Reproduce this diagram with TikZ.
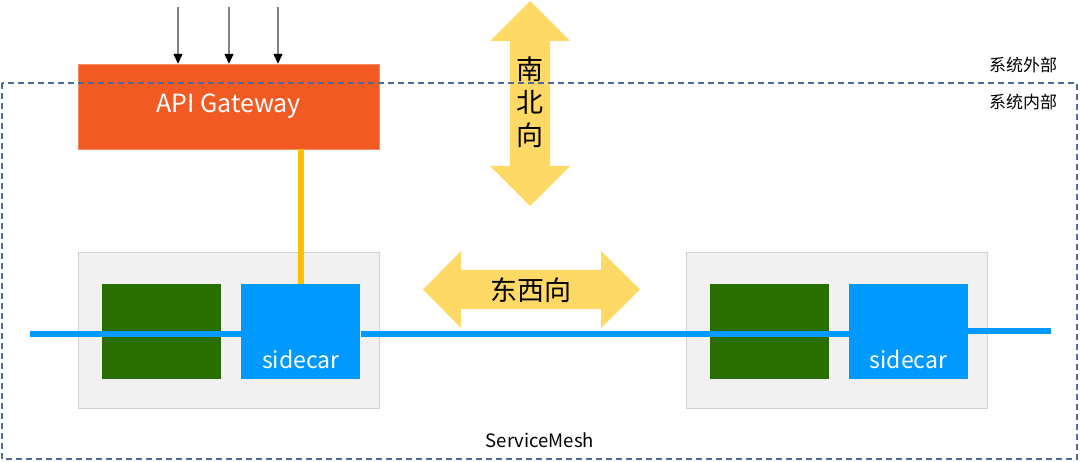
\documentclass[tikz,border=0pt]{standalone}
\usepackage{fontspec}
\setmainfont{Noto Sans CJK SC}
\usetikzlibrary{arrows.meta,positioning}
\definecolor{gwred}{HTML}{F15A22}\definecolor{podgray}{HTML}{F1F1F1}\definecolor{podline}{HTML}{D0D0D0}
\definecolor{appgreen}{HTML}{286E00}\definecolor{meshblue}{HTML}{0099FF}\definecolor{feedyel}{HTML}{FFC000}
\definecolor{dirfill}{HTML}{FFD966}\definecolor{framec}{HTML}{4E6A9C}
\tikzset{gw/.style={fill=gwred,draw=gwred!70!white,text=white,minimum width=301pt,minimum height=85pt,inner sep=0pt,font=\fontsize{25}{29}\selectfont},
 pod/.style={fill=podgray,draw=podline,line width=0.8pt,minimum width=301pt,minimum height=156pt,inner sep=0pt},
 app/.style={fill=appgreen,minimum width=119pt,minimum height=95pt,inner sep=0pt},
 sc/.style={fill=meshblue,minimum width=119pt,minimum height=95pt,inner sep=0pt},
 sclb/.style={text=white,font=\fontsize{23}{27}\selectfont,anchor=base,inner sep=0pt},
 dir/.style={fill=dirfill},dirlb/.style={font=\fontsize{27}{33}\selectfont,align=center,inner sep=0pt},
 lb/.style={font=\fontsize{17}{20}\selectfont,inner sep=0pt},
 mesh/.style={draw=meshblue,line width=6.5pt},feed/.style={draw=feedyel,line width=6pt},
 ar/.style={draw=gray,line width=1.3pt,-{Triangle[black,length=10pt,width=9pt]}},
 frame/.style={draw=framec,line width=1.2pt,dash pattern=on 6pt off 4pt}}

\begin{document}
\begin{tikzpicture}[x=1pt,y=-1pt]
\useasboundingbox (0,0) rectangle (1080,462);
% north-south and east-west arrows
\fill[dir](530,1)--(570,41)--(550,41)--(550,166)--(570,166)--(530,206)--(490,166)--(510,166)--(510,41)--(490,41)--cycle;
\node[dirlb](ns) at (530,102){南\\北\\向};
\fill[dir](423,289.5)--(461,251)--(461,270)--(601,270)--(601,251)--(640,289.5)--(601,328)--(601,309)--(461,309)--(461,328)--cycle;
\node[dirlb](ew) at (531,290){东西向};
% gateway and requests
\node[gw](gw) at (228.5,106.5){API Gateway};
\coordinate(r1) at (178,7);\coordinate(r2) at (229,7);\coordinate(r3) at (278,7);
\draw[ar](r1)--(r1|-gw.north);\draw[ar](r2)--(r2|-gw.north);\draw[ar](r3)--(r3|-gw.north);
% pods
\node[pod](pod1) at (228.5,330){};\node[pod](pod2) at (836.5,330){};
\node[app](app1) at (161.5,331.5){};\node[app](app2) at (769,331.5){};
\coordinate(m1) at (30,334);\coordinate(m2) at (1051,331);
\node[sc,right=20pt of app1](sc1){};\node[sc,right=20pt of app2](sc2){};
\draw[mesh](m1)--(m1-|sc1.west);\draw[mesh](sc1.east|-m1)--(sc2.west|-m1);\draw[mesh](sc2.east|-m2)--(m2);
\node[sclb](sc1t) at ([yshift=11pt]sc1.south){sidecar};\node[sclb](sc2t) at ([yshift=11pt]sc2.south){sidecar};
\draw[feed](sc1.north|-gw.south)--(sc1.north);
% system boundary
\draw[frame](2,83) rectangle (1077,459);
\node[lb](out) at (1023,65){系统外部};\node[lb](in) at (1023,102){系统内部};
\node[lb,font=\fontsize{18.5}{22}\selectfont](smesh) at (540,440){ServiceMesh};
\end{tikzpicture}
\end{document}
